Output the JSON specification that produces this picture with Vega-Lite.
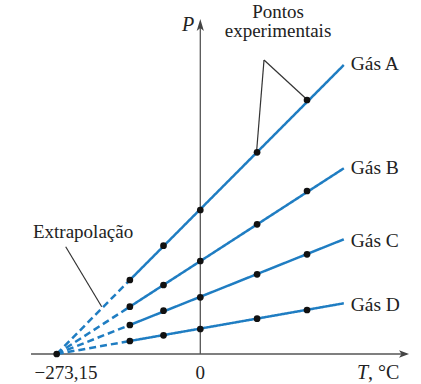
{
  "$schema": "https://vega.github.io/schema/vega-lite/v6.json",
  "width": 421,
  "height": 384,
  "padding": 0,
  "autosize": {"type": "none"},
  "background": "white",
  "config": {"view": {"stroke": null}},
  "datasets": {
    "points": [
      {"gas": "origin", "T": -273.15, "P": 0},
      {"gas": "A", "T": -134, "P": 74}, {"gas": "A", "T": -70, "P": 108.3}, {"gas": "A", "T": 0, "P": 144}, {"gas": "A", "T": 108, "P": 201.7}, {"gas": "A", "T": 203, "P": 254},
      {"gas": "B", "T": -134, "P": 47.3}, {"gas": "B", "T": -70, "P": 69}, {"gas": "B", "T": 0, "P": 93}, {"gas": "B", "T": 108, "P": 129.7}, {"gas": "B", "T": 203, "P": 163},
      {"gas": "C", "T": -134, "P": 29}, {"gas": "C", "T": -70, "P": 43.3}, {"gas": "C", "T": 0, "P": 56.7}, {"gas": "C", "T": 108, "P": 79.7}, {"gas": "C", "T": 203, "P": 99.7},
      {"gas": "D", "T": -134, "P": 13}, {"gas": "D", "T": -70, "P": 18.7}, {"gas": "D", "T": 0, "P": 25}, {"gas": "D", "T": 108, "P": 35.3}, {"gas": "D", "T": 203, "P": 44}
    ],
    "lines": [
      {"gas": "A", "part": "extrapolated", "T": -273.15, "P": 0}, {"gas": "A", "part": "extrapolated", "T": -134, "P": 74},
      {"gas": "A", "part": "measured", "T": -134, "P": 74}, {"gas": "A", "part": "measured", "T": 273, "P": 289},
      {"gas": "B", "part": "extrapolated", "T": -273.15, "P": 0}, {"gas": "B", "part": "extrapolated", "T": -134, "P": 47.3},
      {"gas": "B", "part": "measured", "T": -134, "P": 47.3}, {"gas": "B", "part": "measured", "T": 273, "P": 185.7},
      {"gas": "C", "part": "extrapolated", "T": -273.15, "P": 0}, {"gas": "C", "part": "extrapolated", "T": -134, "P": 29},
      {"gas": "C", "part": "measured", "T": -134, "P": 29}, {"gas": "C", "part": "measured", "T": 273, "P": 114.7},
      {"gas": "D", "part": "extrapolated", "T": -273.15, "P": 0}, {"gas": "D", "part": "extrapolated", "T": -134, "P": 13},
      {"gas": "D", "part": "measured", "T": -134, "P": 13}, {"gas": "D", "part": "measured", "T": 273, "P": 50.7}
    ],
    "gasLabels": [
      {"label": "Gás A", "T": 286, "P": 284},
      {"label": "Gás B", "T": 286, "P": 179.7},
      {"label": "Gás C", "T": 286, "P": 107.3},
      {"label": "Gás D", "T": 286, "P": 43}
    ],
    "notes": [
      {"label": "Pontos", "T": 147.8, "P": 336},
      {"label": "experimentais", "T": 147.8, "P": 316.7},
      {"label": "Extrapolação", "T": -223, "P": 115.7},
      {"label": "−273,15", "T": -255.5, "P": -25.3},
      {"label": "0", "T": 0, "P": -25.3}
    ],
    "pointers": [
      {"T": -256, "P": 107.3, "T2": -187.5, "P2": 47.3},
      {"T": 121.2, "P": 294, "T2": 205.4, "P2": 253.3},
      {"T": 121.2, "P": 294, "T2": 107.3, "P2": 204}
    ],
    "axes": [
      {"axis": "T", "T": -322, "P": 0, "T2": 392, "P2": 0},
      {"axis": "P", "T": 0, "P": 0, "T2": 0, "P2": 330}
    ]
  },
  "layer": [
    {
      "data": {"name": "pointers"},
      "mark": {"type": "rule", "color": "#333333", "strokeWidth": 1.2},
      "encoding": {
        "x": {"field": "T", "type": "quantitative", "scale": {"domain": [-381, 419.8], "nice": false, "zero": false}, "axis": null},
        "y": {"field": "P", "type": "quantitative", "scale": {"domain": [-30, 354], "nice": false, "zero": false}, "axis": null},
        "x2": {"field": "T2"},
        "y2": {"field": "P2"}
      }
    },
    {
      "data": {"name": "axes"},
      "mark": {"type": "rule", "color": "#555555", "strokeWidth": 1.3},
      "encoding": {
        "x": {"field": "T", "type": "quantitative"},
        "y": {"field": "P", "type": "quantitative"},
        "x2": {"field": "T2"},
        "y2": {"field": "P2"}
      }
    },
    {
      "data": {"name": "lines"},
      "mark": {"type": "line", "color": "#1f7dc2", "strokeWidth": 2.5},
      "encoding": {
        "x": {"field": "T", "type": "quantitative"},
        "y": {"field": "P", "type": "quantitative"},
        "detail": {"field": "gas"},
        "strokeDash": {"field": "part", "type": "nominal", "scale": {"domain": ["measured", "extrapolated"], "range": [[1, 0], [7, 4]]}, "legend": null}
      }
    },
    {
      "data": {"name": "points"},
      "mark": {"type": "point", "filled": true, "color": "#111111", "size": 45, "opacity": 1},
      "encoding": {
        "x": {"field": "T", "type": "quantitative"},
        "y": {"field": "P", "type": "quantitative"}
      }
    },
    {
      "data": {"values": [{"T": 397, "P": 0}]},
      "mark": {"type": "point", "filled": true, "color": "#444444", "opacity": 1, "size": 400, "shape": "M0,0L-1,-0.38L-0.75,0L-1,0.38Z"},
      "encoding": {
        "x": {"field": "T", "type": "quantitative"},
        "y": {"field": "P", "type": "quantitative"}
      }
    },
    {
      "data": {"values": [{"T": 0, "P": 335}]},
      "mark": {"type": "point", "filled": true, "color": "#444444", "opacity": 1, "size": 576, "shape": "M0,0L-0.3,1L0,0.75L0.3,1Z"},
      "encoding": {
        "x": {"field": "T", "type": "quantitative"},
        "y": {"field": "P", "type": "quantitative"}
      }
    },
    {
      "data": {"name": "gasLabels"},
      "mark": {"type": "text", "align": "left", "baseline": "alphabetic", "font": "Liberation Serif", "fontSize": 19.5, "color": "#222222"},
      "encoding": {
        "x": {"field": "T", "type": "quantitative"},
        "y": {"field": "P", "type": "quantitative"},
        "text": {"field": "label"}
      }
    },
    {
      "data": {"name": "notes"},
      "mark": {"type": "text", "align": "center", "baseline": "alphabetic", "font": "Liberation Serif", "fontSize": 19, "color": "#222222"},
      "encoding": {
        "x": {"field": "T", "type": "quantitative"},
        "y": {"field": "P", "type": "quantitative"},
        "text": {"field": "label"}
      }
    },
    {
      "data": {"values": [{"label": "P", "T": -23, "P": 323}]},
      "mark": {"type": "text", "align": "center", "baseline": "alphabetic", "font": "Liberation Serif", "fontStyle": "italic", "fontSize": 20, "color": "#222222"},
      "encoding": {
        "x": {"field": "T", "type": "quantitative"},
        "y": {"field": "P", "type": "quantitative"},
        "text": {"field": "label"}
      }
    },
    {
      "data": {"values": [{"label": "T", "T": 319, "P": -25.3}]},
      "mark": {"type": "text", "align": "right", "baseline": "alphabetic", "font": "Liberation Serif", "fontStyle": "italic", "fontSize": 20, "color": "#222222"},
      "encoding": {
        "x": {"field": "T", "type": "quantitative"},
        "y": {"field": "P", "type": "quantitative"},
        "text": {"field": "label"}
      }
    },
    {
      "data": {"values": [{"label": ", °C", "T": 319, "P": -25.3}]},
      "mark": {"type": "text", "align": "left", "baseline": "alphabetic", "font": "Liberation Serif", "fontSize": 20, "color": "#222222"},
      "encoding": {
        "x": {"field": "T", "type": "quantitative"},
        "y": {"field": "P", "type": "quantitative"},
        "text": {"field": "label"}
      }
    }
  ]
}
